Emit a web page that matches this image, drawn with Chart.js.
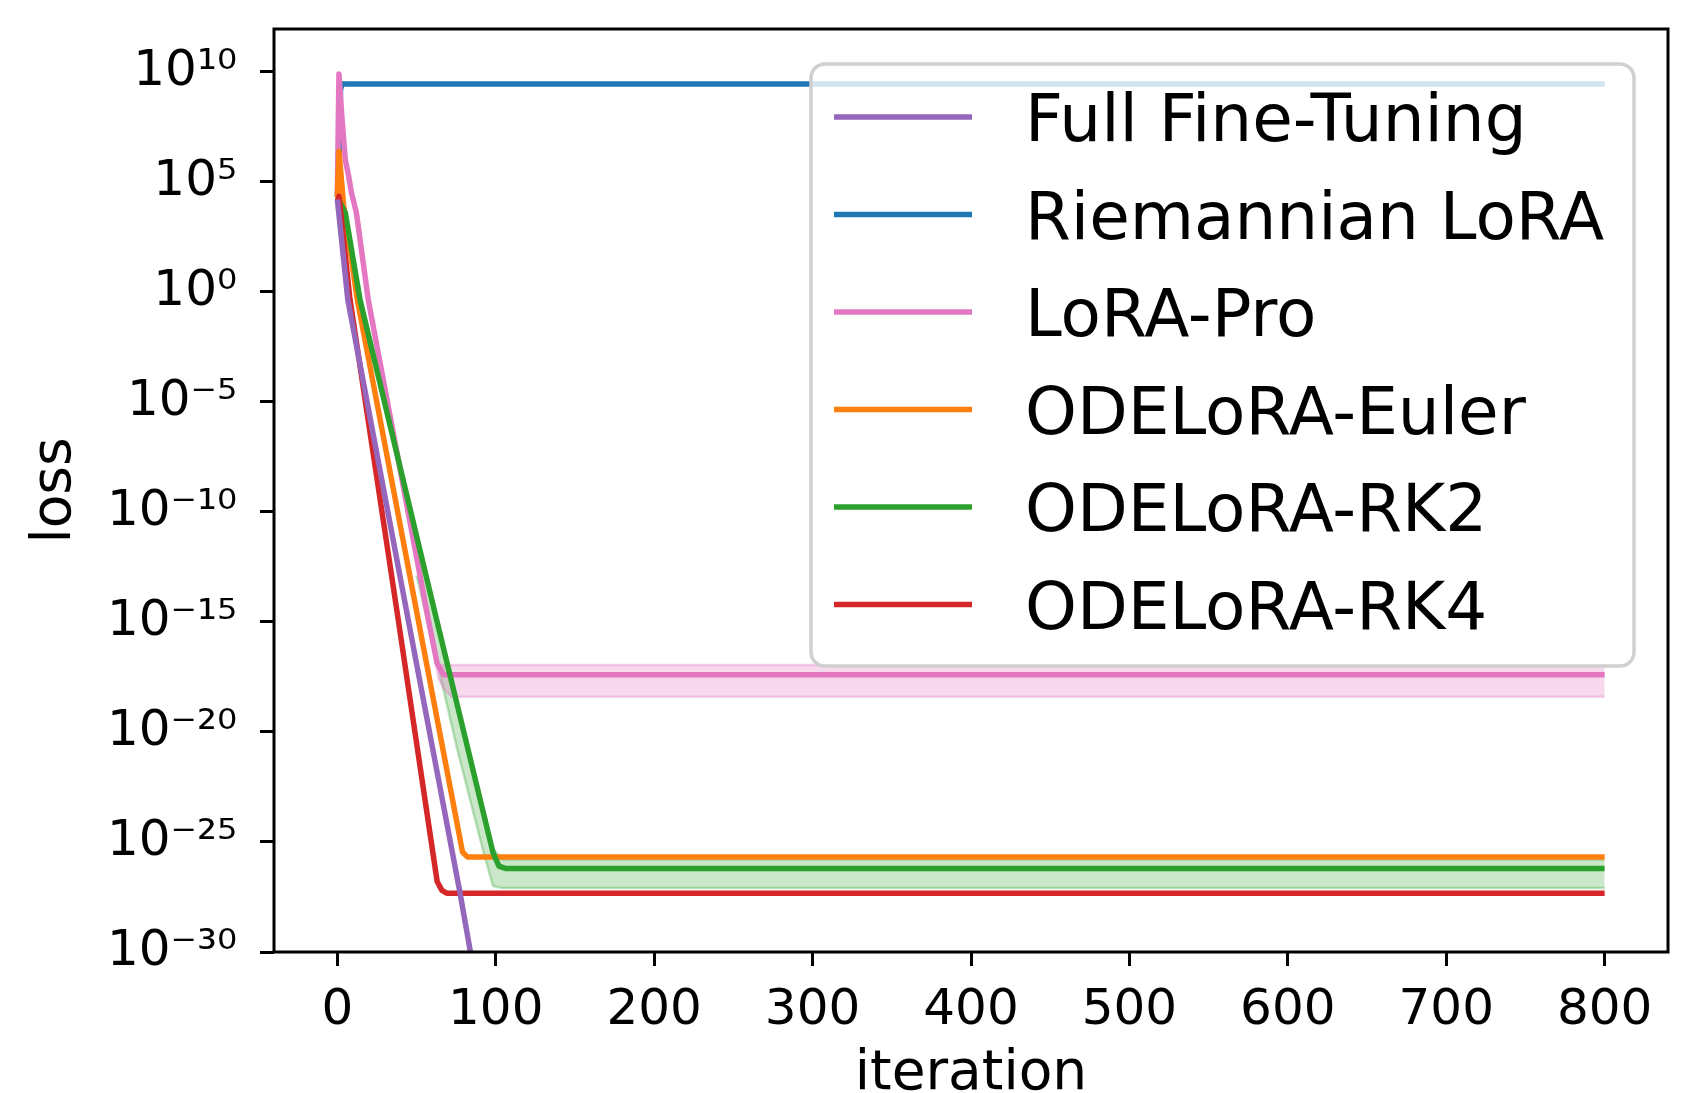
<!DOCTYPE html>
<html lang="en">
<head>
<meta charset="UTF-8">
<title>Loss vs iteration</title>
<script src="https://cdn.jsdelivr.net/npm/chart.js"></script>
<style>
  html, body { margin: 0; padding: 0; background: #fff; }
  #lossChart { display: block; }
</style>
</head>
<body>
<canvas id="lossChart" width="1699" height="1093"></canvas>
<script>
var seriesNames = ['Full Fine-Tuning', 'Riemannian LoRA', 'LoRA-Pro', 'ODELoRA-Euler', 'ODELoRA-RK2', 'ODELoRA-RK4'];
var seriesColors = ['#9467bd', '#1f77b4', '#e377c2', '#ff7f0e', '#2ca02c', '#d62728'];

// iteration / loss pairs
var fullFtIter = [0, 6.6, 44.7, 77.3, 84, 86];
var fullFtLoss = [1.6e4, 4.4e-1, 1.3e-15, 5.5e-28, 1e-30, 3e-33];

var riemIter = [0, 1, 2, 3, 800];
var riemLoss = [2e4, 1e6, 1.6e9, 2.8e9, 2.8e9];

var proIter = [0, 1, 3, 5, 7, 9, 12, 19.5, 57.4, 63, 67, 800];
var proLoss = [3e4, 8e9, 6.3e7, 1e6, 2e5, 3e4, 4e3, 4.4e-1, 1.3e-15, 1.3e-17, 4e-18, 4e-18];
var proBandIter = [50, 57.4, 62, 64, 67, 72, 800];
var proBandHigh = [1.1e-12, 1.6e-15, 3.2e-17, 1.1e-17, 1.1e-17, 1.1e-17, 1.1e-17];
var proBandLow = [6.3e-13, 1e-15, 1.6e-17, 2.5e-18, 1e-18, 4e-19, 4e-19];

var eulerIter = [0, 1, 4, 12.6, 51, 79, 82, 800];
var eulerLoss = [2e4, 2.5e6, 8e3, 4.4e-1, 1.3e-15, 3.5e-26, 2.1e-26, 2.1e-26];

var rk2Iter = [0, 5, 14.3, 62.6, 98.3, 102, 106, 800];
var rk2Loss = [2e4, 4e3, 4.4e-1, 1.3e-15, 3.2e-26, 8e-27, 6.3e-27, 6.3e-27];
var rk2BandIter = [50, 62.6, 75.4, 92, 98.3, 104, 800];
var rk2BandHigh = [1e-11, 2e-15, 3.2e-19, 3.2e-24, 5e-26, 1.6e-26, 1.6e-26];
var rk2BandLow = [1.3e-13, 2e-17, 2e-21, 4e-26, 1e-27, 8e-28, 8e-28];

var rk4Iter = [0, 1, 8, 38.4, 63, 66, 69, 800];
var rk4Loss = [1.3e4, 2.2e4, 4.4e-1, 1.3e-15, 1.6e-27, 6.3e-28, 4.7e-28, 4.7e-28];

var iterTicks = [0, 100, 200, 300, 400, 500, 600, 700, 800];
var lossTicks = [1e-30, 1e-25, 1e-20, 1e-15, 1e-10, 1e-5, 1e0, 1e5, 1e10];

var FONT = 'DejaVu Sans';
var LW = 5.5;

function pts(xs, ys) {
    return xs.map(function (x, i) { return { x: x, y: ys[i] }; });
}

var sup = { '0': '\u2070', '1': '\u00b9', '2': '\u00b2', '3': '\u00b3', '4': '\u2074',
    '5': '\u2075', '6': '\u2076', '7': '\u2077', '8': '\u2078', '9': '\u2079', '-': '\u207b' };
function powLabel(v) {
    var e = Math.round(Math.log10(v));
    return '10' + String(e).split('').map(function (c) { return sup[c]; }).join('');
}

function lineSet(idx, xs, ys, order) {
    return {
        label: seriesNames[idx],
        data: pts(xs, ys),
        borderColor: seriesColors[idx],
        borderWidth: LW,
        borderJoinStyle: 'round',
        pointRadius: 0,
        fill: false,
        clip: 0,
        order: order
    };
}

function bandSet(xs, ys, fill, edge, fillTo) {
    return {
        label: '',
        data: pts(xs, ys),
        borderColor: edge,
        borderWidth: 2.5,
        backgroundColor: fill,
        pointRadius: 0,
        fill: fillTo,
        clip: 0,
        order: 20
    };
}

// frame + legend drawn on top of the lines, like matplotlib
var frameLegend = {
    id: 'frameLegend',
    afterDatasetsDraw: function (chart) {
        var ctx = chart.ctx, a = chart.chartArea;
        ctx.save();
        ctx.strokeStyle = '#000';
        ctx.lineWidth = 3;
        ctx.strokeRect(a.left, a.top, a.right - a.left, a.bottom - a.top);

        ctx.beginPath();
        ctx.roundRect(811, 64, 823, 602, 14);
        ctx.fillStyle = 'rgba(255,255,255,0.8)';
        ctx.fill();
        ctx.strokeStyle = '#d0d0d0';
        ctx.lineWidth = 3.5;
        ctx.stroke();

        ctx.font = '66px "' + FONT + '"';
        ctx.textBaseline = 'alphabetic';
        ctx.textAlign = 'left';
        for (var i = 0; i < seriesNames.length; i++) {
            var y = 117 + i * 97.5;
            ctx.beginPath();
            ctx.moveTo(834, y);
            ctx.lineTo(972, y);
            ctx.strokeStyle = seriesColors[i];
            ctx.lineWidth = LW;
            ctx.stroke();
            ctx.fillStyle = '#000';
            ctx.fillText(seriesNames[i], 1025, y + 24);
        }
        ctx.restore();
    }
};

var ctx = document.getElementById('lossChart').getContext('2d');
var chart = new Chart(ctx, {
    type: 'line',
    data: {
        datasets: [
            bandSet(proBandIter, proBandHigh, 'rgba(227,119,194,0.28)', 'rgba(227,119,194,0.35)', '+1'),
            bandSet(proBandIter, proBandLow, 'rgba(227,119,194,0.28)', 'rgba(227,119,194,0.35)', false),
            bandSet(rk2BandIter, rk2BandHigh, 'rgba(44,160,44,0.25)', 'rgba(44,160,44,0.3)', '+1'),
            bandSet(rk2BandIter, rk2BandLow, 'rgba(44,160,44,0.25)', 'rgba(44,160,44,0.3)', false),
            lineSet(1, riemIter, riemLoss, 6),
            lineSet(2, proIter, proLoss, 5),
            lineSet(3, eulerIter, eulerLoss, 4),
            lineSet(4, rk2Iter, rk2Loss, 3),
            lineSet(5, rk4Iter, rk4Loss, 2),
            lineSet(0, fullFtIter, fullFtLoss, 1)
        ]
    },
    options: {
        responsive: false,
        animation: false,
        events: [],
        layout: { padding: { top: 29, right: 31, left: 0, bottom: 0 } },
        plugins: {
            legend: { display: false },
            tooltip: { enabled: false }
        },
        scales: {
            x: {
                type: 'linear',
                min: -40,
                max: 840,
                afterBuildTicks: function (scale) {
                    scale.ticks = iterTicks.map(function (v) { return { value: v }; });
                },
                afterFit: function (scale) {
                    scale.height = 141;
                    scale.paddingLeft = 0;
                    scale.paddingRight = 0;
                },
                grid: { drawOnChartArea: false, drawTicks: true, tickLength: 14, tickWidth: 3, tickColor: '#000' },
                border: { display: false },
                ticks: {
                    color: '#000',
                    padding: 15,
                    maxRotation: 0,
                    font: { family: FONT, size: 50 }
                },
                title: {
                    display: true,
                    text: 'iteration',
                    color: '#000',
                    font: { family: FONT, size: 55, lineHeight: 0.6 },
                    padding: { top: 0, bottom: 1.5 }
                }
            },
            y: {
                type: 'logarithmic',
                min: 1e-30,
                max: 8.9e11,
                afterBuildTicks: function (scale) {
                    scale.ticks = lossTicks.map(function (v) { return { value: v }; });
                },
                afterFit: function (scale) {
                    scale.width = 274;
                    scale.paddingTop = 0;
                    scale.paddingBottom = 0;
                },
                grid: { drawOnChartArea: false, drawTicks: true, tickLength: 14, tickWidth: 3, tickColor: '#000' },
                border: { display: false },
                ticks: {
                    color: '#000',
                    padding: 23,
                    font: { family: FONT, size: 50 },
                    callback: function (v) { return powLabel(v); }
                },
                title: {
                    display: true,
                    text: 'loss',
                    color: '#000',
                    font: { family: FONT, size: 55, lineHeight: 0.8 },
                    padding: { top: 34, bottom: 0 }
                }
            }
        }
    },
    plugins: [frameLegend]
});
</script>
</body>
</html>
